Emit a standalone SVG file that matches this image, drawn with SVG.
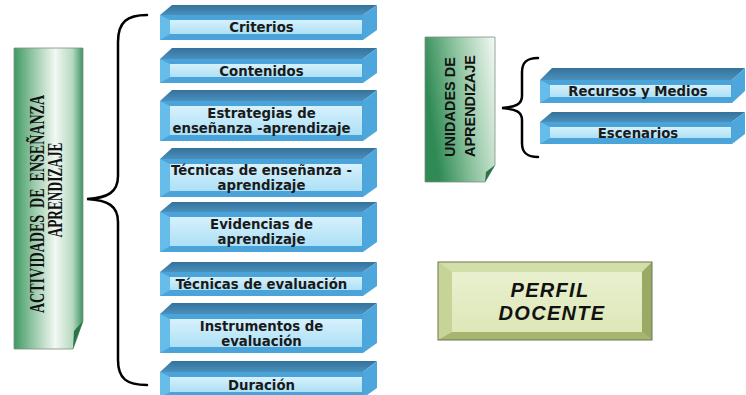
<svg xmlns="http://www.w3.org/2000/svg" width="746" height="395" viewBox="0 0 746 395">
<defs>
<linearGradient id="gTop" x1="0" y1="0" x2="0" y2="1"><stop offset="0" stop-color="#34729a"/><stop offset="1" stop-color="#4a90be"/></linearGradient>
<linearGradient id="gLight" x1="0" y1="0" x2="0" y2="1"><stop offset="0" stop-color="#d6f1fc"/><stop offset="1" stop-color="#ade0f6"/></linearGradient>
<linearGradient id="gGreenBig" x1="0" y1="0" x2="1" y2="0"><stop offset="0" stop-color="#3f9963"/><stop offset="0.3" stop-color="#9ccbac"/><stop offset="0.6" stop-color="#f2f8f3"/><stop offset="0.85" stop-color="#b5d9c0"/><stop offset="1" stop-color="#3c9461"/></linearGradient>
<linearGradient id="gGreenSmall" x1="0" y1="0.3" x2="1" y2="0"><stop offset="0" stop-color="#2f8a55"/><stop offset="0.45" stop-color="#8cc39e"/><stop offset="1" stop-color="#f4f9f4"/></linearGradient>
<linearGradient id="gOlive" x1="0" y1="0" x2="0" y2="1"><stop offset="0" stop-color="#e9f0cf"/><stop offset="1" stop-color="#dde7b8"/></linearGradient>
</defs>
<style>
.top{fill:url(#gTop)}
.side{fill:#4ea7dc}
.front{fill:#4aa4da}
.lbev{fill:#66bdea}
.light{fill:url(#gLight)}
.lbl{font-family:"DejaVu Sans",Verdana,sans-serif;font-weight:bold;font-size:13.3px;fill:#1a1a1a;text-anchor:middle}
.brace{fill:none;stroke:#000;stroke-width:2.5;stroke-linecap:round}
.vt{font-weight:bold;fill:#111;text-anchor:middle;white-space:pre}
</style>
<rect width="746" height="395" fill="#fff"/>

<g id="connectors">
<path class="brace" d="M147,15 C127,15 118,22 118,42 L118,176 C118,192 108,198 87,199 C108,200 118,206 118,222 L118,360 C118,379 127,385 147,385"/>
<path class="brace" d="M538,58 C526,58 522,63 522,72 L522,96 C522,104 516,107 502,108 C516,109 522,112 522,120 L522,143 C522,152 526,157 538,157"/>
</g>

<g id="n-actividades">
<path d="M14,48 H83 V321 L73,349 H14 Z" fill="url(#gGreenBig)" stroke="#7f8f82" stroke-width="0.8"/>
<path d="M83,321 L74,331 L73,349 Z" fill="#2a7447"/>
<text class="vt" font-family="'Liberation Serif','Times New Roman',serif" font-size="20" transform="translate(44,204) rotate(-90)" textLength="218" lengthAdjust="spacingAndGlyphs">ACTIVIDADES  DE  ENSEÑANZA</text>
<text class="vt" font-family="'Liberation Serif','Times New Roman',serif" font-size="20" transform="translate(62,190) rotate(-90)" textLength="95" lengthAdjust="spacingAndGlyphs">APRENDIZAJE</text>
</g>

<g id="n-unidades">
<path d="M425,37 H495 V165 L485,182 H425 Z" fill="url(#gGreenSmall)" stroke="#7f8f82" stroke-width="0.8"/>
<path d="M495,165 L486,172 L485,182 Z" fill="#2a7447"/>
<text class="vt" font-family="'Liberation Sans',Arial,sans-serif" font-size="15" transform="translate(455,107) rotate(-90)" textLength="100" lengthAdjust="spacingAndGlyphs">UNIDADES DE</text>
<text class="vt" font-family="'Liberation Sans',Arial,sans-serif" font-size="15" transform="translate(475,106) rotate(-90)" textLength="102" lengthAdjust="spacingAndGlyphs">APRENDIZAJE</text>
</g>

<g id="n-criterios">
<polygon class="top" points="160,15 172,5 377,5 363,15"/>
<polygon class="side" points="363,15 377,5 377,30 363,40"/>
<rect class="front" x="160" y="15" width="203" height="25"/>
<polygon class="lbev" points="160,15 170,20 170,34 160,40"/>
<rect class="light" x="170" y="20" width="192" height="14"/>
<text class="lbl" x="261.5" y="32">Criterios</text>
</g>

<g id="n-contenidos">
<polygon class="top" points="160,59 172,48 377,48 363,59"/>
<polygon class="side" points="363,59 377,48 377,73 363,83"/>
<rect class="front" x="160" y="59" width="203" height="24"/>
<polygon class="lbev" points="160,59 170,64 170,77 160,83"/>
<rect class="light" x="170" y="64" width="192" height="13"/>
<text class="lbl" x="261.5" y="75.5">Contenidos</text>
</g>

<g id="n-estrategias">
<polygon class="top" points="160,101 172,90 377,90 363,101"/>
<polygon class="side" points="363,101 377,90 377,131 363,141"/>
<rect class="front" x="160" y="101" width="203" height="40"/>
<polygon class="lbev" points="160,101 170,106 170,135 160,141"/>
<rect class="light" x="170" y="106" width="192" height="29"/>
<text class="lbl" x="261.5" y="118">Estrategias de</text>
<text class="lbl" x="261.5" y="133">enseñanza -aprendizaje</text>
</g>

<g id="n-tecnicas-ensenanza">
<polygon class="top" points="160,159 172,148 377,148 363,159"/>
<polygon class="side" points="363,159 377,148 377,187 363,197"/>
<rect class="front" x="160" y="159" width="203" height="38"/>
<polygon class="lbev" points="160,159 170,164 170,191 160,197"/>
<rect class="light" x="170" y="164" width="192" height="27"/>
<text class="lbl" x="261.5" y="175">Técnicas de enseñanza -</text>
<text class="lbl" x="261.5" y="190">aprendizaje</text>
</g>

<g id="n-evidencias">
<polygon class="top" points="160,212 172,202 377,202 363,212"/>
<polygon class="side" points="363,212 377,202 377,242 363,252"/>
<rect class="front" x="160" y="212" width="203" height="40"/>
<polygon class="lbev" points="160,212 170,217 170,246 160,252"/>
<rect class="light" x="170" y="217" width="192" height="29"/>
<text class="lbl" x="261.5" y="229">Evidencias de</text>
<text class="lbl" x="261.5" y="244">aprendizaje</text>
</g>

<g id="n-tecnicas-evaluacion">
<polygon class="top" points="160,272 172,262 377,262 363,272"/>
<polygon class="side" points="363,272 377,262 377,286 363,296"/>
<rect class="front" x="160" y="272" width="203" height="24"/>
<polygon class="lbev" points="160,272 170,277 170,290 160,296"/>
<rect class="light" x="170" y="277" width="192" height="13"/>
<text class="lbl" x="261.5" y="288.5">Técnicas de evaluación</text>
</g>

<g id="n-instrumentos">
<polygon class="top" points="160,314 172,303 377,303 363,314"/>
<polygon class="side" points="363,314 377,303 377,343 363,353"/>
<rect class="front" x="160" y="314" width="203" height="39"/>
<polygon class="lbev" points="160,314 170,319 170,347 160,353"/>
<rect class="light" x="170" y="319" width="192" height="28"/>
<text class="lbl" x="261.5" y="330.5">Instrumentos de</text>
<text class="lbl" x="261.5" y="345.5">evaluación</text>
</g>

<g id="n-duracion">
<polygon class="top" points="160,372 172,361 377,361 363,372"/>
<polygon class="side" points="363,372 377,361 377,388 363,398"/>
<rect class="front" x="160" y="372" width="203" height="26"/>
<polygon class="lbev" points="160,372 170,377 170,392 160,398"/>
<rect class="light" x="170" y="377" width="192" height="15"/>
<text class="lbl" x="261.5" y="389.5">Duración</text>
</g>

<g id="n-recursos">
<polygon class="top" points="540,80 552,68 745,68 732,80"/>
<polygon class="side" points="732,80 745,68 745,91 732,103"/>
<rect class="front" x="540" y="80" width="192" height="23"/>
<polygon class="lbev" points="540,80 550,85 550,97 540,103"/>
<rect class="light" x="550" y="85" width="181" height="12"/>
<text class="lbl" x="638" y="96">Recursos y Medios</text>
</g>

<g id="n-escenarios">
<polygon class="top" points="540,122 552,112 745,112 732,122"/>
<polygon class="side" points="732,122 745,112 745,134 732,144"/>
<rect class="front" x="540" y="122" width="192" height="22"/>
<polygon class="lbev" points="540,122 550,127 550,138 540,144"/>
<rect class="light" x="550" y="127" width="181" height="11"/>
<text class="lbl" x="638" y="137.5">Escenarios</text>
</g>

<g id="n-perfil">
<rect x="438" y="262" width="214" height="78" fill="#c9d79c"/>
<polygon points="438,262 652,262 642,272 452,272" fill="#d3dfa9"/>
<polygon points="438,262 452,272 452,332 438,340" fill="#c6d497"/>
<polygon points="438,340 452,332 642,332 652,340" fill="#a6b56f"/>
<polygon points="652,262 652,340 642,332 642,272" fill="#9aaa64"/>
<rect x="452" y="272" width="190" height="60" fill="url(#gOlive)"/>
<rect x="438" y="262" width="214" height="78" fill="none" stroke="#6d7456" stroke-width="1"/>
<text x="550" y="297" font-family="'Liberation Sans',Arial,sans-serif" font-weight="bold" font-style="italic" font-size="20" letter-spacing="1.3" fill="#111" text-anchor="middle">PERFIL</text>
<text x="552" y="320" font-family="'Liberation Sans',Arial,sans-serif" font-weight="bold" font-style="italic" font-size="20" letter-spacing="1.3" fill="#111" text-anchor="middle">DOCENTE</text>
</g>
</svg>
